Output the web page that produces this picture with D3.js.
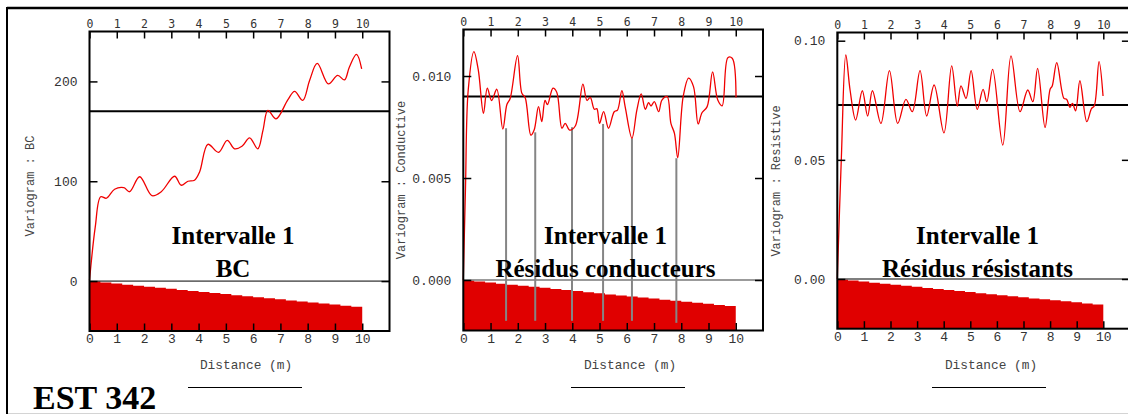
<!DOCTYPE html>
<html>
<head>
<meta charset="utf-8">
<script src="https://cdn.jsdelivr.net/npm/d3@7"></script>
<style>
  html, body { margin: 0; padding: 0; background: #fff; }
  svg { display: block; }
</style>
</head>
<body>
<svg id="chart" width="1128" height="414"></svg>
<script>
// ---------- DATA ----------
const xTickValues = [0, 1, 2, 3, 4, 5, 6, 7, 8, 9, 10];

const bcLag   = [0, 0.21, 0.41, 0.62, 0.92, 1.26, 1.47, 1.84, 2.29, 2.63, 3.12, 3.36, 3.61, 3.85, 4.04, 4.34, 4.73, 5.05, 5.32, 5.59, 5.87, 6.17, 6.36, 6.54, 6.84, 7.27, 7.52, 7.82, 8.07, 8.35, 8.76, 9.10, 9.35, 9.53, 9.79, 9.98];
const bcGamma = [1, 54, 84.5, 83, 92, 93.5, 89.5, 104.5, 85.5, 89.5, 105, 96, 100, 101, 109.5, 137, 129, 141, 132.5, 135, 143.5, 132.5, 151, 171, 162.5, 181.5, 190, 181, 201, 218, 197.5, 206, 201.5, 214.5, 227, 212.5];

const condLag   = [0, 0.08, 0.18, 0.39, 0.55, 0.74, 0.88, 1.04, 1.23, 1.45, 1.60, 1.72, 1.99, 2.15, 2.27, 2.48, 2.60, 2.76, 2.88, 3.00, 3.09, 3.29, 3.43, 3.62, 3.74, 3.90, 4.11, 4.39, 4.54, 4.66, 4.81, 4.90, 5.00, 5.15, 5.33, 5.54, 5.66, 5.82, 5.94, 6.19, 6.37, 6.53, 6.68, 6.80, 6.89, 7.01, 7.17, 7.29, 7.48, 7.62, 7.75, 7.87, 8.07, 8.27, 8.45, 8.62, 8.76, 8.95, 9.15, 9.34, 9.50, 9.71, 9.87, 10.01];
const condGamma = [0, 0.0045, 0.0093, 0.0112, 0.0103, 0.00817, 0.0094, 0.0088, 0.00935, 0.0074, 0.0086, 0.0089, 0.0110, 0.00915, 0.00895, 0.0071, 0.00735, 0.0085, 0.00776, 0.0088, 0.0086, 0.0094, 0.0092, 0.00744, 0.00768, 0.00735, 0.00755, 0.0096, 0.0088, 0.00895, 0.00837, 0.0084, 0.00768, 0.00825, 0.00744, 0.00825, 0.00833, 0.00928, 0.0085, 0.00695, 0.00833, 0.00912, 0.00837, 0.0087, 0.00853, 0.00874, 0.00825, 0.00882, 0.0090, 0.00768, 0.00719, 0.0060, 0.00899, 0.0099, 0.00948, 0.00765, 0.0082, 0.0085, 0.0102, 0.00882, 0.00854, 0.0109, 0.01087, 0.00895];

const resLag   = [0, 0.15, 0.32, 0.48, 0.69, 0.94, 1.14, 1.32, 1.64, 1.96, 2.27, 2.58, 2.82, 3.11, 3.36, 3.64, 4.01, 4.30, 4.51, 4.65, 4.84, 5.03, 5.26, 5.48, 5.62, 5.84, 6.22, 6.53, 6.87, 7.16, 7.35, 7.53, 7.81, 8.00, 8.08, 8.25, 8.52, 8.62, 8.75, 8.84, 8.96, 9.12, 9.38, 9.56, 9.66, 9.84, 9.99];
const resGamma = [0, 0.050, 0.094, 0.0793, 0.0667, 0.079, 0.0684, 0.079, 0.0653, 0.0874, 0.0653, 0.0754, 0.0702, 0.0874, 0.0684, 0.0814, 0.0613, 0.0894, 0.0726, 0.081, 0.0758, 0.0874, 0.0712, 0.0796, 0.0744, 0.088, 0.0562, 0.0936, 0.0702, 0.0793, 0.0744, 0.0884, 0.0636, 0.0796, 0.081, 0.0908, 0.0758, 0.0754, 0.072, 0.0737, 0.0706, 0.0832, 0.066, 0.0716, 0.0726, 0.0912, 0.0768];

// number of pairs per lag bin (bin edges in metres)
const pairBinEdges = [0, 0.4, 0.8, 1.2, 1.6, 2.0, 2.4, 2.8, 3.2, 3.6, 4.0, 4.4, 4.8, 5.2, 5.6, 6.0, 6.4, 6.8, 7.2, 7.6, 8.0, 8.4, 8.8, 9.2, 9.6, 10.0];
const pairCounts   = [198, 194, 190, 185, 181, 177, 173, 169, 164, 160, 156, 152, 148, 143, 139, 135, 131, 127, 122, 118, 114, 110, 106, 101, 97];

const sills = [170, 0.009, 0.073];

const condMarkLag    = [1.57, 2.64, 3.99, 5.13, 6.19, 7.82];
const condMarkTop    = [0.00744, 0.00724, 0.00749, 0.00765, 0.00695, 0.00597];
const condMarkBottom = [-0.002, -0.002, -0.002, -0.002, -0.002, -0.0021];

const yTicksBC   = [0, 100, 200];
const yTicksCond = [0, 0.005, 0.010];
const yTicksRes  = [0, 0.05, 0.10];

const titles1 = ["Intervalle 1", "Intervalle 1", "Intervalle 1"];
const titles2 = ["BC", "Résidus conducteurs", "Résidus résistants"];
const yLabels = ["Variogram : BC", "Variogram : Conductive", "Variogram : Resistive"];
const xLabel = "Distance (m)";
const stationLabel = "EST 342";

// ---------- LAYOUT ----------
const svg = d3.select("#chart");

const panels = [
  { left: 89.5, top: 31.5, right: 389.5, bottom: 331, ydom: [-50, 250], yTicks: yTicksBC, fmt: d3.format("d"),
    lag: bcLag, gamma: bcGamma, sill: sills[0], zeroColor: "#000", zeroW: 1,
    yLabX: 30, yLabY: 186, titleX: 233, xLabX: 246, ulX: 245 },
  { left: 463.3, top: 29.5, right: 763, bottom: 330.5, ydom: [-0.002475, 0.01228], yTicks: yTicksCond, fmt: d3.format(".3f"),
    lag: condLag, gamma: condGamma, sill: sills[1], zeroColor: "#7a7a7a", zeroW: 1.5,
    yLabX: 401, yLabY: 180, titleX: 605.5, xLabX: 630, ulX: 628 },
  { left: 837.3, top: 32.5, right: 1129.9, bottom: 328.7, ydom: [-0.02086, 0.10344], yTicks: yTicksRes, fmt: d3.format(".2f"),
    lag: resLag, gamma: resGamma, sill: sills[2], zeroColor: "#555", zeroW: 1.5,
    yLabX: 776, yLabY: 181, titleX: 977.5, xLabX: 991, ulX: 989 }
];

// outer frame
svg.append("line").attr("x1", 7).attr("x2", 1128).attr("y1", 8).attr("y2", 8).attr("stroke", "#000").attr("stroke-width", 2.5);
svg.append("line").attr("x1", 7).attr("x2", 7).attr("y1", 7).attr("y2", 414).attr("stroke", "#000").attr("stroke-width", 2);
svg.append("line").attr("x1", 8).attr("x2", 1128).attr("y1", 413.5).attr("y2", 413.5).attr("stroke", "#d4d4d4").attr("stroke-width", 1);

panels.forEach((p, i) => {
  const x = d3.scaleLinear().domain([0, 11]).range([p.left, p.right]);
  const y = d3.scaleLinear().domain(p.ydom).range([p.bottom, p.top]);
  const pairY = d3.scaleLinear().domain([0, 200]).range([p.bottom, y(0)]);
  const g = svg.append("g");

  // pair-count histogram (stepped area)
  const stepPts = pairBinEdges.map((e, k) => [e, pairCounts[Math.min(k, pairCounts.length - 1)]]);
  const area = d3.area().x(d => x(d[0])).y0(p.bottom).y1(d => pairY(d[1])).curve(d3.curveStepAfter);
  g.append("path").datum(stepPts).attr("d", area).attr("fill", "#e00000");

  // zero line
  g.append("line").attr("x1", x(0)).attr("x2", x(11)).attr("y1", y(0)).attr("y2", y(0))
    .attr("stroke", p.zeroColor).attr("stroke-width", p.zeroW);

  // marker lines (conductive panel)
  if (i === 1) {
    g.append("g").selectAll("line").data(condMarkLag).join("line")
      .attr("x1", d => x(d)).attr("x2", d => x(d))
      .attr("y1", (d, k) => y(condMarkTop[k])).attr("y2", (d, k) => y(condMarkBottom[k]))
      .attr("stroke", "#858585").attr("stroke-width", 2);
  }

  // titles
  g.append("text").attr("x", p.titleX).attr("y", 244).attr("text-anchor", "middle")
    .attr("font-family", "'Liberation Serif', 'Times New Roman', serif").attr("font-weight", "bold")
    .attr("font-size", 25).attr("fill", "#000").text(titles1[i]);
  g.append("text").attr("x", p.titleX).attr("y", 276.5).attr("text-anchor", "middle")
    .attr("font-family", "'Liberation Serif', 'Times New Roman', serif").attr("font-weight", "bold")
    .attr("font-size", 25).attr("fill", "#000").text(titles2[i]);

  // sill line
  g.append("line").attr("x1", x(0)).attr("x2", x(11)).attr("y1", y(p.sill)).attr("y2", y(p.sill))
    .attr("stroke", "#000").attr("stroke-width", 2);

  // variogram curve
  const line = d3.line().x(d => x(d[0])).y(d => y(d[1])).curve(d3.curveCatmullRom.alpha(0.5));
  g.append("path").datum(p.lag.map((l, k) => [l, p.gamma[k]]))
    .attr("d", line).attr("fill", "none").attr("stroke", "#f00000").attr("stroke-width", 1.3);

  // axes
  const tickCol = "#000";
  const top = g.append("g").attr("transform", `translate(0,${p.top})`)
    .call(d3.axisTop(x).tickValues(xTickValues).tickSizeInner(-7).tickSizeOuter(0).tickPadding(3.5));
  top.selectAll("text").attr("font-family", "'DejaVu Sans Mono', monospace").attr("font-size", 11.5).attr("fill", "#333");

  const bot = g.append("g").attr("transform", `translate(0,${p.bottom})`)
    .call(d3.axisBottom(x).tickValues(xTickValues).tickSizeInner(-7.5).tickSizeOuter(0).tickPadding(2.8));
  bot.selectAll("text").attr("font-family", "'Liberation Mono', 'Courier New', monospace").attr("font-size", 13).attr("fill", "#333");

  const lft = g.append("g").attr("transform", `translate(${p.left},0)`)
    .call(d3.axisLeft(y).tickValues(p.yTicks).tickFormat(p.fmt).tickSizeInner(-8).tickSizeOuter(0).tickPadding(12));
  lft.selectAll("text").attr("font-family", "'Liberation Mono', 'Courier New', monospace").attr("font-size", 13).attr("fill", "#333");

  const rgt = g.append("g").attr("transform", `translate(${p.right},0)`)
    .call(d3.axisRight(y).tickValues(p.yTicks).tickFormat("").tickSizeInner(-8).tickSizeOuter(0));

  [top, bot, lft, rgt].forEach(a => {
    a.select(".domain").remove();
    a.selectAll(".tick line").attr("stroke", tickCol).attr("stroke-width", 1.5);
  });

  // frame
  g.append("rect").attr("x", p.left).attr("y", p.top).attr("width", p.right - p.left).attr("height", p.bottom - p.top)
    .attr("fill", "none").attr("stroke", "#000").attr("stroke-width", 2);

  // axis labels
  g.append("text").attr("transform", `translate(${p.yLabX},${p.yLabY}) rotate(-90)`)
    .attr("text-anchor", "middle").attr("dy", "0.35em")
    .attr("font-family", "'Liberation Mono', 'Courier New', monospace").attr("font-size", 12).attr("fill", "#444")
    .text(yLabels[i]);
  g.append("text").attr("x", p.xLabX).attr("y", 369).attr("text-anchor", "middle")
    .attr("font-family", "'Liberation Mono', 'Courier New', monospace").attr("font-size", 12.8).attr("fill", "#444")
    .text(xLabel);
  g.append("line").attr("x1", p.ulX - 57).attr("x2", p.ulX + 57).attr("y1", 387.5).attr("y2", 387.5)
    .attr("stroke", "#000").attr("stroke-width", 1.2);
});

svg.append("text").attr("x", 33).attr("y", 409)
  .attr("font-family", "'Liberation Serif', 'Times New Roman', serif").attr("font-weight", "bold")
  .attr("font-size", 34).attr("fill", "#000").text(stationLabel);
</script>
</body>
</html>
